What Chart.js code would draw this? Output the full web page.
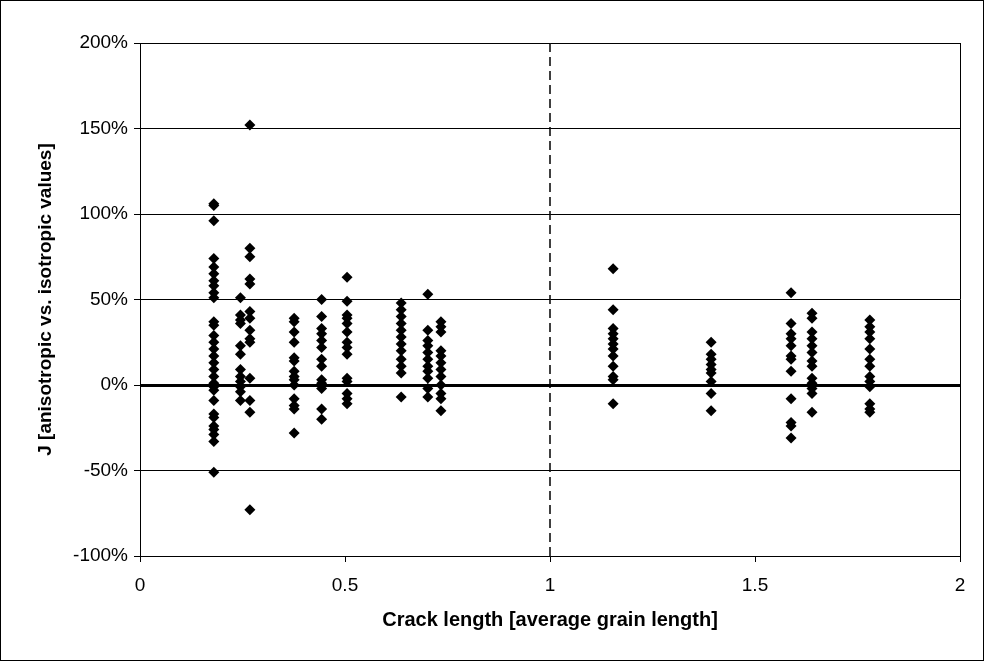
<!DOCTYPE html>
<html>
<head>
<meta charset="utf-8">
<script src="https://cdn.jsdelivr.net/npm/chart.js@4"></script>
<style>
  html, body { margin: 0; padding: 0; background: #fff; }
  #wrap { width: 984px; height: 661px; position: relative; }
</style>
</head>
<body>
<div id="wrap"><canvas id="scatterChart"></canvas></div>
<script>
// crack lengths (x) of each column of points, in average grain lengths
const crackLengths = [0.18, 0.245, 0.268, 0.376, 0.443, 0.505, 0.637, 0.702, 0.734, 1.154, 1.393, 1.588, 1.639, 1.78];

// J, anisotropic vs. isotropic, in percent — one list per crack length
const jAt018 = [106, 105, 96, 74, 69, 65, 61, 58, 54, 51, 37, 35, 29, 25, 21, 17, 13, 9, 5, 1, -1, -3, -9, -17, -19, -24, -26, -29, -33, -51];
const jAt025 = [51, 41, 38, 36, 23, 18, 9, 5, 2, -1, -4, -9];
const jAt027 = [152, 80, 75, 62, 59, 43, 39, 32, 27, 25, 4, -9, -16, -73];
const jAt038 = [39, 37, 31, 25, 16, 14, 8, 5, 3, 0, -8, -12, -14, -28];
const jAt044 = [50, 40, 33, 30, 26, 22, 15, 11, 3, 1, -2, -14, -20];
const jAt050 = [63, 49, 41, 39, 36, 31, 25, 22, 18, 4, 2, -5, -8, -11];
const jAt064 = [48, 44, 40, 36, 32, 28, 24, 20, 15, 11, 7, -7];
const jAt070 = [53, 32, 26, 23, 19, 15, 11, 8, 4, -2, -7];
const jAt073 = [37, 34, 31, 20, 17, 13, 9, 5, 0, -5, -8, -15];
const jAt115 = [68, 44, 33, 30, 27, 24, 21, 17, 11, 5, 3, -11];
const jAt139 = [25, 18, 15, 12, 9, 7, 2, -5, -15];
const jAt159 = [54, 36, 30, 27, 23, 17, 15, 8, -8, -22, -24, -31];
const jAt164 = [42, 39, 31, 27, 23, 19, 14, 11, 4, 1, -2, -5, -16];
const jAt178 = [38, 34, 31, 27, 21, 15, 11, 5, 2, -1, -11, -14, -16];

const jColumns = [jAt018, jAt025, jAt027, jAt038, jAt044, jAt050, jAt064, jAt070, jAt073, jAt115, jAt139, jAt159, jAt164, jAt178];

// vertical marker at one grain length
const markerX = [1, 1];
const markerY = [-100, 200];

const xTicks = [0, 0.5, 1, 1.5, 2];

const points = [];
crackLengths.forEach(function (x, i) {
    jColumns[i].forEach(function (y) {
        points.push({ x: x, y: y });
    });
});

// white background plus the thin frame round the whole picture
const framePlugin = {
    id: "frame",
    beforeDraw(chart) {
        const c = chart.ctx;
        c.save();
        c.fillStyle = "#fff";
        c.fillRect(0, 0, chart.width, chart.height);
        c.restore();
    },
    afterDraw(chart) {
        const c = chart.ctx;
        c.save();
        c.strokeStyle = "#000";
        c.lineWidth = 1;
        c.strokeRect(0.5, 0.5, chart.width - 1, chart.height - 1);
        c.restore();
    },
};

Chart.defaults.font.family = "'Liberation Sans', Arial, sans-serif";
Chart.defaults.color = "#000";

new Chart(document.getElementById("scatterChart"), {
    type: "scatter",
    data: {
        datasets: [
            {
                label: "J",
                data: points,
                pointStyle: "rectRot",
                pointRadius: 5.5,
                pointHoverRadius: 5.5,
                backgroundColor: "#000",
                borderColor: "#000",
                borderWidth: 0,
                order: 1,
            },
            {
                type: "line",
                label: "grain length",
                data: markerX.map((x, i) => ({ x: x, y: markerY[i] })),
                borderColor: "#000",
                borderWidth: 1.5,
                borderDash: [9, 5],
                pointRadius: 0,
                fill: false,
                order: 2,
            },
        ],
    },
    options: {
        responsive: true,
        maintainAspectRatio: false,
        animation: false,
        layout: {
            padding: { top: 43, right: 24, bottom: 0, left: 0 },
        },
        plugins: {
            legend: { display: false },
            tooltip: { enabled: false },
        },
        scales: {
            x: {
                type: "linear",
                min: 0,
                max: 2,
                afterFit: function (s) { s.height = 105; },
                afterBuildTicks: function (s) { s.ticks = xTicks.map(v => ({ value: v })); },
                ticks: {
                    font: { size: 19 },
                    padding: 12,
                    maxRotation: 0,
                    callback: v => String(v),
                },
                grid: {
                    color: c => (c.tick && c.tick.value === 2 ? "#000" : "rgba(0,0,0,0)"),
                    lineWidth: 1,
                    drawTicks: true,
                    tickLength: 6,
                    tickColor: "#000",
                    tickWidth: 1,
                },
                border: { display: true, color: "#000", width: 1 },
                title: {
                    display: true,
                    text: "Crack length [average grain length]",
                    font: { size: 20, weight: "bold" },
                    padding: { top: 4, bottom: 29 },
                },
            },
            y: {
                min: -100,
                max: 200,
                afterFit: function (s) { s.width = 140; },
                ticks: {
                    stepSize: 50,
                    font: { size: 19 },
                    padding: 6,
                    callback: v => v + "%",
                },
                grid: {
                    color: "#000",
                    lineWidth: c => (c.tick && c.tick.value === 0 ? 3 : 1),
                    drawTicks: true,
                    tickLength: 6,
                    tickColor: "#000",
                    tickWidth: 1,
                },
                border: { display: true, color: "#000", width: 1 },
                title: {
                    display: true,
                    text: "J [anisotropic vs. isotropic values]",
                    font: { size: 19, weight: "bold" },
                    padding: { top: 34, bottom: 4 },
                },
            },
        },
    },
    plugins: [framePlugin],
});
</script>
</body>
</html>
